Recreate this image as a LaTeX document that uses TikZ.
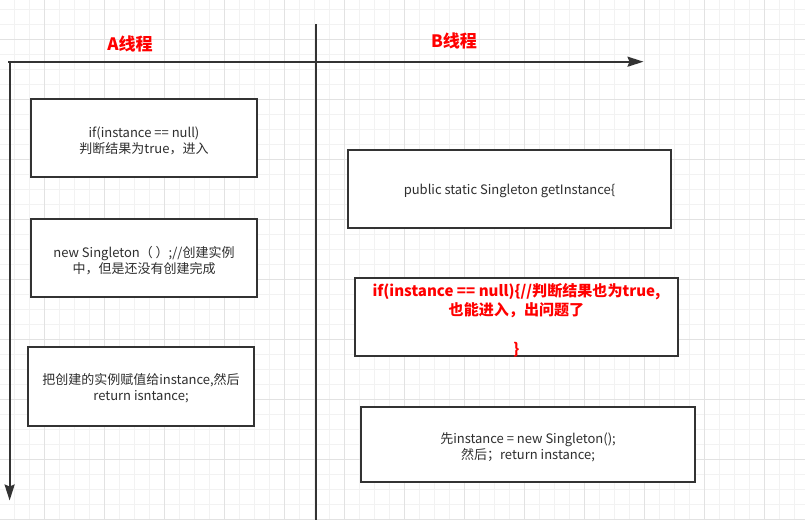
\documentclass[tikz,border=0pt]{standalone}
\usepackage{fontspec}
\setmainfont{Noto Sans CJK SC}
\usetikzlibrary{arrows.meta}
\definecolor{lineclr}{HTML}{333333}
\definecolor{txtclr}{HTML}{2E2E2E}
\definecolor{gridminor}{HTML}{F2F2F2}
\definecolor{gridmajor}{HTML}{E2E2E2}
\definecolor{redtxt}{HTML}{FF0000}
\tikzset{
  axisline/.style={draw=lineclr, line width=1.5pt},
  axisarrow/.style={axisline, -{Stealth[length=12pt, width=7.5pt, inset=1.5pt]}},
  stepbox/.style={draw=lineclr, line width=1.5pt, fill=white, inner sep=0pt},
  steptext/.style={inner sep=0pt, align=center, text=txtclr, font=\fontsize{9.75}{11.8}\selectfont},
  redtext/.style={steptext, text=redtxt, font=\bfseries\fontsize{11.3}{14.5}\selectfont},
  header/.style={text=redtxt, font=\bfseries\fontsize{12.8}{14}\selectfont, inner sep=0pt}
}
\begin{document}
\begin{tikzpicture}[x=0.75pt, y=-0.75pt]
\useasboundingbox (0,0) rectangle (805,520);
\fill[white] (0,0) rectangle (805,520);
% grid
\begin{scope}
\clip (0,0) rectangle (805,520);
\foreach \i in {0,...,52} {
  \draw[gridminor, line width=0.75pt] ({14.3+15*\i},0) -- ({14.3+15*\i},520);
}
\foreach \i in {0,...,34} {
  \draw[gridminor, line width=0.75pt] (0,{9.3+15*\i}) -- (805,{9.3+15*\i});
}
\foreach \i in {0,...,12} {
  \draw[gridmajor, line width=0.75pt] ({44.3+60*\i},0) -- ({44.3+60*\i},520);
}
\foreach \i in {0,...,8} {
  \draw[gridmajor, line width=0.75pt] (0,{39.3+60*\i}) -- (805,{39.3+60*\i});
}
\end{scope}
% axes
\coordinate (xstart) at (8.3,61.7);
\coordinate (xend) at (643.5,61.7);
\coordinate (ystart) at (9.6,60.8);
\coordinate (yend) at (9.6,500.5);
\coordinate (mtop) at (315.7,24.3);
\coordinate (mbot) at (315.7,521);
\draw[axisarrow] (xstart) -- (xend);
\draw[axisarrow] (ystart) -- (yend);
\draw[axisline] (mtop) -- (mbot);
% headers
\node[header] (ha) at (130,43.5) {A线程};
\node[header] (hb) at (454,41) {B线程};
% thread A boxes
\node[stepbox, minimum width=226*0.75pt, minimum height=78*0.75pt] (a1) at (144,138) {};
\node[steptext] (a1t) at ([yshift=-1.9pt]a1.center) {if(instance == null)\\判断结果为true，进入};
\node[stepbox, minimum width=226*0.75pt, minimum height=78*0.75pt] (a2) at (144,258) {};
\node[steptext] (a2t) at ([yshift=-1.9pt]a2.center) {new Singleton（ ）;//创建实例\\中，但是还没有创建完成};
\node[stepbox, minimum width=226*0.75pt, minimum height=79*0.75pt] (a3) at (141,386.5) {};
\node[steptext] (a3t) at ([yshift=-1.5pt]a3.center) {把创建的实例赋值给instance,然后\\return isntance;};
% thread B boxes
\node[stepbox, minimum width=323*0.75pt, minimum height=78*0.75pt] (b1) at (509.5,189) {};
\node[steptext] (b1t) at ([yshift=-1.5pt]b1.center) {public static Singleton getInstance\{};
\node[stepbox, minimum width=323*0.75pt, minimum height=78*0.75pt] (b2) at (516.5,317) {};
\node[redtext] (b2t) at ([yshift=-2.2pt]b2.center) {if(instance == null)\{//判断结果也为true,\\也能进入，出问题了\\[14.5pt]\}};
\node[stepbox, minimum width=334*0.75pt, minimum height=75*0.75pt] (b3) at (528,444.5) {};
\node[steptext] (b3t) at ([yshift=-1.9pt]b3.center) {先instance = new Singleton();\\然后；return instance;};
\end{tikzpicture}
\end{document}
